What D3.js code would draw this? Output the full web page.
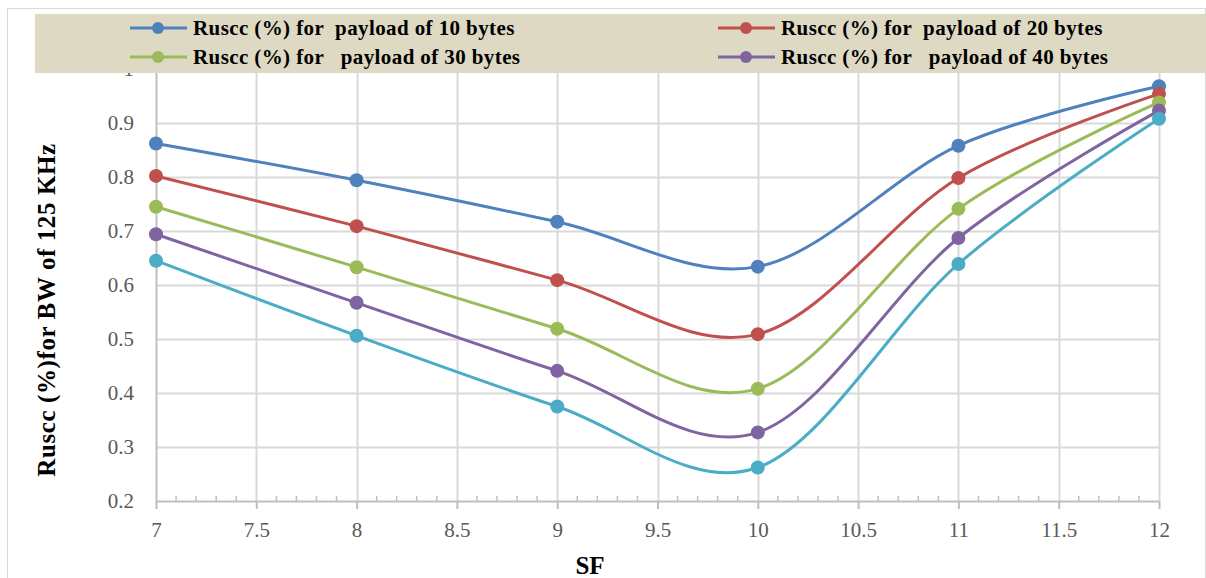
<!DOCTYPE html>
<html>
<head>
<meta charset="utf-8">
<script src="https://cdn.jsdelivr.net/npm/d3@7/dist/d3.min.js"></script>
<style>
  html, body { margin: 0; padding: 0; background: #fff; }
  svg { display: block; }
</style>
</head>
<body>
<svg id="chart" width="1206" height="578"></svg>
<script>
// Spreading factor values on the x axis
const sf = [7, 8, 9, 10, 11, 12];

// Ruscc (%) per payload size, BW 125 KHz
const payload10 = [0.862, 0.794, 0.717, 0.634, 0.858, 0.968];
const payload20 = [0.802, 0.709, 0.609, 0.509, 0.798, 0.954];
const payload30 = [0.745, 0.633, 0.519, 0.408, 0.741, 0.938];
const payload40 = [0.694, 0.567, 0.441, 0.327, 0.687, 0.923];
const payload50 = [0.645, 0.506, 0.375, 0.262, 0.639, 0.908];

const seriesNames = [
  "Ruscc (%) for  payload of 10 bytes",
  "Ruscc (%) for  payload of 20 bytes",
  "Ruscc (%) for   payload of 30 bytes",
  "Ruscc (%) for   payload of 40 bytes",
  null
];
const seriesValues = [payload10, payload20, payload30, payload40, payload50];
const seriesColors = ["#4f81bd", "#c0504d", "#9bbb59", "#8064a2", "#4bacc6"];

const xTicks = [7, 7.5, 8, 8.5, 9, 9.5, 10, 10.5, 11, 11.5, 12];
const yTicks = [0.2, 0.3, 0.4, 0.5, 0.6, 0.7, 0.8, 0.9, 1];

const svg = d3.select("#chart");
const W = 1206, H = 578;
const m = { left: 156, right: 1159, top: 69, bottom: 501 };

const x = d3.scaleLinear().domain([7, 12]).range([m.left, m.right]);
const y = d3.scaleLinear().domain([0.2, 1]).range([m.bottom, m.top]);

const serif = "'Liberation Serif', 'DejaVu Serif', serif";

// outer chart frame
svg.append("rect")
  .attr("x", 7.5).attr("y", 8.5)
  .attr("width", W - 8).attr("height", H - 6)
  .attr("fill", "#fff").attr("stroke", "#d9d9d9").attr("stroke-width", 1);

// gridlines
const grid = svg.append("g");
grid.selectAll("line.h").data(yTicks.slice(1)).join("line")
  .attr("x1", m.left).attr("x2", m.right)
  .attr("y1", d => Math.round(y(d)) + 0.5).attr("y2", d => Math.round(y(d)) + 0.5)
  .attr("stroke", "#d9d9d9").attr("stroke-width", 2);
grid.selectAll("line.v").data(xTicks.slice(1)).join("line")
  .attr("y1", m.top).attr("y2", m.bottom)
  .attr("x1", d => Math.round(x(d)) + 0.5).attr("x2", d => Math.round(x(d)) + 0.5)
  .attr("stroke", "#d9d9d9").attr("stroke-width", 2);

// x axis: major ticks pointing down, minor ticks pointing up
const xAxis = svg.append("g").attr("transform", `translate(0,${m.bottom})`)
  .call(d3.axisBottom(x).tickValues(xTicks).tickFormat(d3.format("")).tickSize(8).tickSizeOuter(0).tickPadding(13));
xAxis.select(".domain").attr("stroke", "#bfbfbf").attr("stroke-width", 2);
xAxis.selectAll(".tick line").attr("stroke", "#bfbfbf").attr("stroke-width", 2);
xAxis.selectAll(".tick text")
  .attr("font-family", serif).attr("font-size", 21).attr("fill", "#595959");

const minor = d3.range(70, 121).map(v => v / 10).filter(v => Math.abs(v * 2 - Math.round(v * 2)) > 1e-6);
svg.append("g").selectAll("line").data(minor).join("line")
  .attr("x1", d => x(d)).attr("x2", d => x(d))
  .attr("y1", m.bottom).attr("y2", m.bottom - 5)
  .attr("stroke", "#bfbfbf").attr("stroke-width", 1.5);

// y axis
const yAxis = svg.append("g").attr("transform", `translate(${m.left},0)`)
  .call(d3.axisLeft(y).tickValues(yTicks).tickFormat(d3.format("")).tickSize(0).tickPadding(22));
yAxis.select(".domain").attr("stroke", "#bfbfbf").attr("stroke-width", 2);
yAxis.selectAll(".tick text")
  .attr("font-family", serif).attr("font-size", 21).attr("fill", "#595959");

// series lines and markers
const line = d3.line()
  .x((d, i) => x(sf[i]))
  .y(d => y(d))
  .curve(d3.curveCatmullRom.alpha(0));

const plot = svg.append("g");
seriesValues.forEach((vals, k) => {
  plot.append("path")
    .datum(vals)
    .attr("d", line)
    .attr("fill", "none")
    .attr("stroke", seriesColors[k])
    .attr("stroke-width", 3);
});
seriesValues.forEach((vals, k) => {
  plot.append("g").selectAll("circle").data(vals).join("circle")
    .attr("cx", (d, i) => x(sf[i]))
    .attr("cy", d => y(d))
    .attr("r", 7)
    .attr("fill", seriesColors[k]);
});

// axis titles
svg.append("text")
  .attr("x", 590).attr("y", 574)
  .attr("text-anchor", "middle")
  .attr("font-family", serif).attr("font-weight", "bold").attr("font-size", 25)
  .attr("fill", "#000")
  .text("SF");

svg.append("text")
  .attr("transform", "translate(55,310) rotate(-90)")
  .attr("text-anchor", "middle")
  .attr("font-family", serif).attr("font-weight", "bold").attr("font-size", 25)
  .attr("letter-spacing", 0.6)
  .attr("fill", "#000")
  .text("Ruscc (%)for BW of 125 KHz");

// legend band
svg.append("rect")
  .attr("x", 35).attr("y", 14)
  .attr("width", W - 35).attr("height", 59)
  .attr("fill", "#ddd9c3");

const legendPos = [
  { lx: 130, ly: 28 },
  { lx: 718, ly: 28 },
  { lx: 130, ly: 57 },
  { lx: 718, ly: 57 }
];
const legend = svg.append("g");
seriesNames.forEach((name, k) => {
  if (!name) return;
  const p = legendPos[k];
  const g = legend.append("g").attr("transform", `translate(${p.lx},${p.ly})`);
  g.append("line").attr("x1", 0).attr("x2", 57).attr("y1", 0).attr("y2", 0)
    .attr("stroke", seriesColors[k]).attr("stroke-width", 3);
  g.append("circle").attr("cx", 28).attr("cy", 0).attr("r", 6).attr("fill", seriesColors[k]);
  g.append("text")
    .attr("x", 63).attr("y", 7)
    .attr("font-family", serif).attr("font-weight", "bold").attr("font-size", 21)
    .attr("letter-spacing", 0.4)
    .attr("fill", "#000")
    .style("white-space", "pre")
    .text(name);
});
</script>
</body>
</html>
